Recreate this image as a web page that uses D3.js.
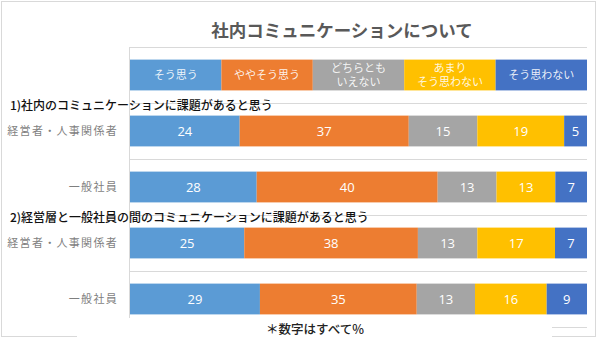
<!DOCTYPE html>
<html><head><meta charset="utf-8">
<script src="https://cdn.jsdelivr.net/npm/d3@7"></script>
<style>
html,body{margin:0;padding:0;background:#fff;}
svg{display:block;font-family:"Noto Sans CJK JP","Noto Sans",sans-serif;}
</style></head>
<body>
<svg id="c" width="600" height="340"></svg>
<script>
const title = "社内コミュニケーションについて";
const footnote = "＊数字はすべて%";
const headings = ["1)社内のコミュニケーションに課題があると思う", "2)経営層と一般社員の間のコミュニケーションに課題があると思う"];
const categories = ["経営者・人事関係者", "一般社員", "経営者・人事関係者", "一般社員"];
const seriesNames = ["そう思う", "ややそう思う", "どちらとも\nいえない", "あまり\nそう思わない", "そう思わない"];
const colors = ["#5B9BD5", "#ED7D31", "#A5A5A5", "#FFC000", "#4472C4"];
const soOmou = [24, 28, 25, 29];
const yayaSoOmou = [37, 40, 38, 35];
const dochiratomo = [15, 13, 13, 13];
const amari = [19, 13, 17, 16];
const soOmowanai = [5, 7, 7, 9];
const seriesValues = [soOmou, yayaSoOmou, dochiratomo, amari, soOmowanai];

const svg = d3.select("#c");
const L = 130, R = 587;

// outer border
svg.append("rect").attr("x", 1.5).attr("y", 1.5).attr("width", 594).attr("height", 335)
  .attr("fill", "#fff").attr("stroke", "#d9d9d9").attr("stroke-width", 1);

// rows: legend row + 4 category rows
const rowKeys = ["legend", 0, 1, 2, 3];
const y = d3.scaleBand().domain(rowKeys).range([47, 327]).paddingInner(0.45).paddingOuter(0.225);
const step = y.step();
const x = d3.scaleLinear().domain([0, 1]).range([L, R]);
const xLeg = d3.scaleBand().domain(d3.range(seriesNames.length)).range([L, R]);

// gridlines at band boundaries
const gridYs = rowKeys.map(k => y(k) - y.paddingOuter() * step).concat([327]);
svg.append("g").selectAll("line").data(gridYs).join("line")
  .attr("x1", L).attr("x2", R).attr("y1", d => Math.round(d) + 0.5).attr("y2", d => Math.round(d) + 0.5)
  .attr("stroke", "#d9d9d9").attr("stroke-width", 1);
// left axis line
svg.append("line").attr("x1", L - 0.5).attr("x2", L - 0.5).attr("y1", 47).attr("y2", 327)
  .attr("stroke", "#d9d9d9");

// title
svg.append("text").attr("x", 342).attr("y", 37).attr("text-anchor", "middle")
  .attr("font-size", 17.5).attr("font-weight", 700).attr("fill", "#595959").text(title);

// legend row
const lg = svg.append("g");
lg.selectAll("rect").data(seriesNames).join("rect")
  .attr("x", (d, i) => xLeg(i)).attr("y", y("legend")).attr("width", xLeg.bandwidth()).attr("height", y.bandwidth())
  .attr("fill", (d, i) => colors[i]);
lg.selectAll("text").data(seriesNames).join("text")
  .attr("text-anchor", "middle").attr("font-size", 11).attr("fill", "#fff").attr("fill-opacity", 0.9)
  .each(function (d, i) {
    const lines = d.split("\n");
    const cx = xLeg(i) + xLeg.bandwidth() / 2;
    const cy = y("legend") + y.bandwidth() / 2;
    const t = d3.select(this);
    lines.forEach((ln, j) => {
      t.append("tspan").attr("x", cx)
        .attr("y", cy + 4 + (j - (lines.length - 1) / 2) * 14.5).text(ln);
    });
  });

// bars
const rows = categories.map((c, r) => {
  const vals = seriesValues.map(s => s[r]);
  const tot = d3.sum(vals);
  let acc = 0;
  return vals.map((v, i) => { const s0 = acc / tot; acc += v; return { r, i, v, x0: s0, x1: acc / tot }; });
});
const bg = svg.append("g");
rows.forEach(segs => {
  bg.selectAll(null).data(segs).join("rect")
    .attr("x", d => x(d.x0)).attr("y", d => y(d.r)).attr("width", d => x(d.x1) - x(d.x0))
    .attr("height", y.bandwidth()).attr("fill", d => colors[d.i]);
  bg.selectAll(null).data(segs).join("text")
    .attr("x", d => (x(d.x0) + x(d.x1)) / 2).attr("y", d => y(d.r) + y.bandwidth() / 2 + 5)
    .attr("text-anchor", "middle").attr("font-size", 13).attr("fill", "#fff")
    .attr("font-family", "'Open Sans','Noto Sans',sans-serif").text(d => d.v);
});

// category labels
svg.append("g").selectAll("text").data(categories).join("text")
  .attr("x", 118).attr("y", (d, i) => y(i) + y.bandwidth() / 2 + 4)
  .attr("text-anchor", "end").attr("font-size", 11).attr("fill", "#7f7f7f")
  .attr("letter-spacing", "1.3px").text(d => d);

// headings
svg.append("g").selectAll("text").data(headings).join("text")
  .attr("x", 10).attr("y", (d, i) => y(i * 2) - y.paddingOuter() * step + 7)
  .attr("font-size", 12).attr("font-weight", 500).attr("fill", "#111").text(d => d);

// footnote box (covers lower lines)
svg.append("rect").attr("x", 77).attr("y", 318).attr("width", 475).attr("height", 22).attr("fill", "#fff");
svg.append("text").attr("x", 315).attr("y", 334).attr("text-anchor", "middle")
  .attr("font-size", 12.5).attr("font-weight", 500).attr("fill", "#222").text(footnote);
</script>
</body></html>
